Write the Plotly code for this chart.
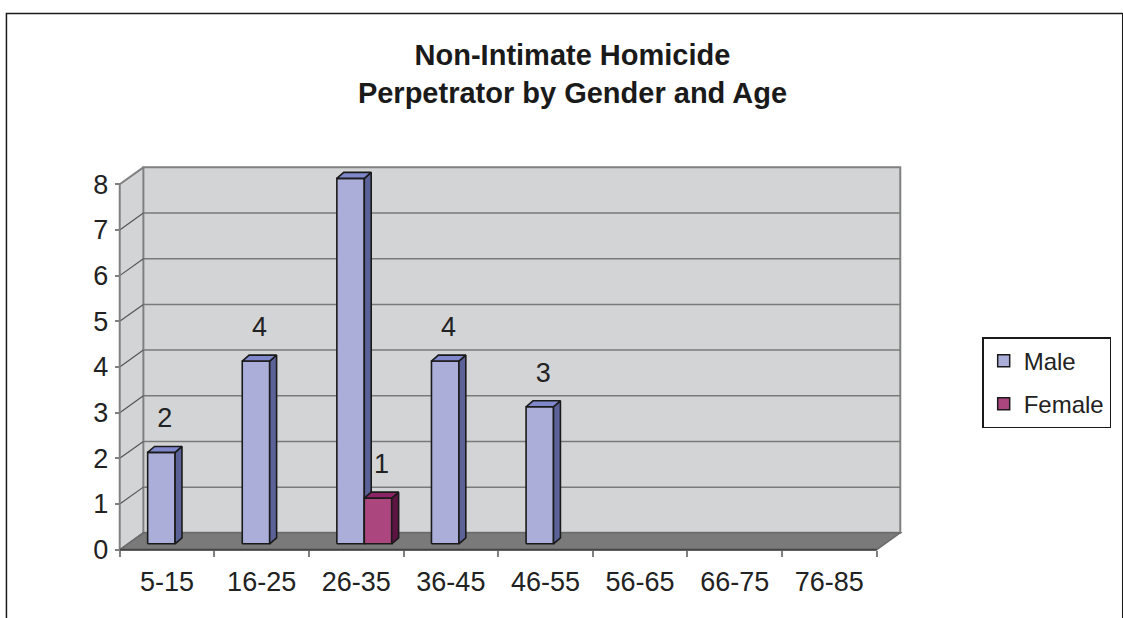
import plotly.graph_objects as go

age_groups = ['5-15', '16-25', '26-35', '36-45', '46-55', '56-65', '66-75', '76-85']
male = [2, 4, 8, 4, 3, 0, 0, 0]
female = [0, 0, 1, 0, 0, 0, 0, 0]
y_ticks = [0, 1, 2, 3, 4, 5, 6, 7, 8]

# fake excel 3d look, everything in axis units
WALL_DX, WALL_DY = 0.25, 0.37    # depth of the back wall
BAR_DX, BAR_DY = 0.085, 0.13     # bars sit a bit behind the front edge
SIDE_DX, SIDE_DY = 0.073, 0.13   # depth of each bar
BAR_W = 0.29
LABEL_UP = 0.7

FONT = 'Liberation Sans, Arial, sans-serif'
series = [
    ('Male', male, '#aaaed8', '#5b6298', '#8088cc', -1),
    ('Female', female, '#ac467e', '#5e1442', '#8c2364', 0),
]

W, H = 1123, 618
x_lo, x_hi = -0.55, len(age_groups) - 0.5 + WALL_DX + 0.05
y_lo, y_hi = -0.05, max(y_ticks) + WALL_DY + 0.03
ml, mr, mt, mb = 114.7, 210, 165.7, 65.7
pw = W - ml - mr
ph = H - mt - mb

fig = go.Figure()


def poly(xs, ys, fill):
    fig.add_trace(go.Scatter(
        x=xs + [xs[0]], y=ys + [ys[0]],
        mode='lines', fill='toself', fillcolor=fill,
        line=dict(color='#1a1a1a', width=1.6),
        hoverinfo='skip', showlegend=False
    ))


labels_x, labels_y, labels_t = [], [], []
for i in range(len(age_groups)):
    for name, vals, c_front, c_side, c_top, side in series:
        v = vals[i]
        if not v:
            continue
        x0 = i + BAR_DX + side * BAR_W
        x1 = x0 + BAR_W
        b = BAR_DY
        t = BAR_DY + v
        poly([x0, x1, x1, x0], [b, b, t, t], c_front)
        poly([x1, x1 + SIDE_DX, x1 + SIDE_DX, x1], [b, b + SIDE_DY, t + SIDE_DY, t], c_side)
        poly([x0, x1, x1 + SIDE_DX, x0 + SIDE_DX], [t, t, t + SIDE_DY, t + SIDE_DY], c_top)
        labels_x.append((x0 + x1) / 2 + SIDE_DX / 2)
        labels_y.append(t + LABEL_UP)
        labels_t.append(str(v))

fig.add_trace(go.Scatter(
    x=labels_x, y=labels_y, text=labels_t, mode='text',
    textfont=dict(family=FONT, size=27, color='#222222'),
    hoverinfo='skip', showlegend=False
))

# legend entries only
for name, vals, c_front, c_side, c_top, side in series:
    fig.add_trace(go.Bar(
        x=[None], y=[None], name=name, legendgroup=name,
        marker=dict(color=c_front, line=dict(color='#1a1a1a', width=1.5))
    ))

# walls and floor
n = len(age_groups)
left, right = -0.5, n - 0.5
top = max(y_ticks)
shapes = []
shapes.append(dict(type='path', layer='below',
                   path=f'M {left},0 L {left + WALL_DX},{WALL_DY} L {left + WALL_DX},{top + WALL_DY} L {left},{top} Z',
                   fillcolor='#d3d4d6', line=dict(width=0)))
shapes.append(dict(type='rect', layer='below',
                   x0=left + WALL_DX, x1=right + WALL_DX, y0=WALL_DY, y1=top + WALL_DY,
                   fillcolor='#d3d4d6', line=dict(color='#808080', width=2)))
for k in y_ticks[1:-1]:
    shapes.append(dict(type='line', layer='below',
                       x0=left + WALL_DX, x1=right + WALL_DX, y0=k + WALL_DY, y1=k + WALL_DY,
                       line=dict(color='#7a7a7a', width=1.5)))
for k in y_ticks:
    shapes.append(dict(type='line', layer='below',
                       x0=left, x1=left + WALL_DX, y0=k, y1=k + WALL_DY,
                       line=dict(color='#555555' if k < top else '#808080', width=1.2 if k < top else 2)))
shapes.append(dict(type='path', layer='below',
                   path=f'M {left},0 L {right},0 L {right + WALL_DX},{WALL_DY} L {left + WALL_DX},{WALL_DY} Z',
                   fillcolor='#7a7a7a', line=dict(color='#6a6a6a', width=1.5)))
shapes.append(dict(type='line', layer='below', x0=left, x1=left, y0=0, y1=top,
                   line=dict(color='#808080', width=2)))
shapes.append(dict(type='line', layer='below', x0=left, x1=right, y0=0, y1=0,
                   line=dict(color='#444444', width=2)))
# outer chart border, runs off the right and bottom of the page
shapes.append(dict(type='rect', xref='paper', yref='paper',
                   x0=(5 - ml) / pw, x1=(W + 10 - ml) / pw,
                   y0=-(mb + 10) / ph, y1=(H - mb - 13) / ph,
                   line=dict(color='#1a1a1a', width=1.5), fillcolor='rgba(0,0,0,0)'))

fig.update_layout(
    width=W, height=H,
    margin=dict(l=ml, r=mr, t=mt, b=mb, pad=0),
    paper_bgcolor='white', plot_bgcolor='white',
    shapes=shapes,
    title=dict(
        text='<b>Non-Intimate Homicide<br>Perpetrator by Gender and Age</b>',
        font=dict(family=FONT, size=29, color='#1a1a1a'),
        x=572.5 / W, xref='container', xanchor='center',
        y=1 - 65 / H, yref='container', yanchor='top'
    ),
    xaxis=dict(
        range=[x_lo, x_hi], anchor='free', position=(0 - y_lo) / (y_hi - y_lo),
        tickmode='array', tickvals=list(range(n)), ticktext=age_groups,
        ticks='outside', ticklen=6, tickcolor='rgba(0,0,0,0)',
        minor=dict(tickmode='array', tickvals=[k - 0.5 for k in range(n + 1)],
                   ticks='outside', ticklen=6, tickcolor='#808080', tickwidth=1.5, showgrid=False),
        showgrid=False, zeroline=False, showline=False,
        tickfont=dict(family=FONT, size=27, color='#222222'),
        ticklabelstandoff=2, fixedrange=True
    ),
    yaxis=dict(
        range=[y_lo, y_hi], anchor='free', position=(left - x_lo) / (x_hi - x_lo),
        tickmode='array', tickvals=y_ticks,
        ticks='outside', ticklen=5, tickcolor='#808080', tickwidth=1.5,
        showgrid=False, zeroline=False, showline=False,
        tickfont=dict(family=FONT, size=27, color='#222222'),
        ticklabelstandoff=1, fixedrange=True
    ),
    legend=dict(
        x=(991 - ml) / pw, xanchor='left', y=(H - mb - 337) / ph, yanchor='top',
        bordercolor='#1a1a1a', borderwidth=1.5, bgcolor='white',
        font=dict(family=FONT, size=24, color='#222222'),
        tracegroupgap=9, itemwidth=30
    ),
    showlegend=True
)

# page body has a default 8px margin, drop it so the figure sits at 0,0
fig.write_html('out.html', config={'displayModeBar': False},
               post_script="document.body.style.margin='0px';")
